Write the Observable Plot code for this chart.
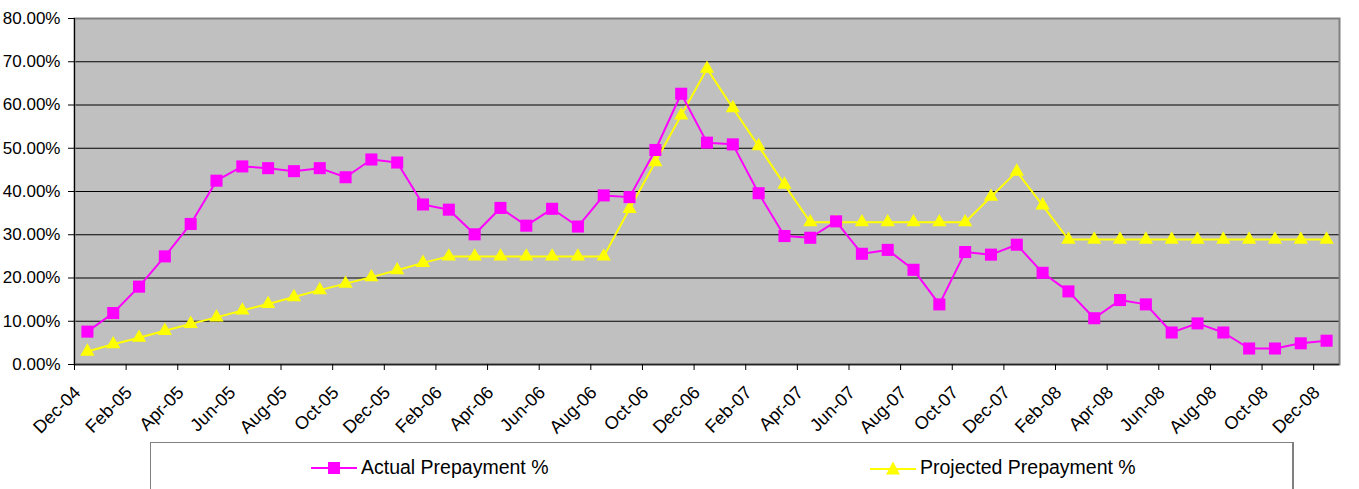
<!DOCTYPE html>
<html>
<head>
<meta charset="utf-8">
<script src="https://cdn.jsdelivr.net/npm/d3@7"></script>
<script src="https://cdn.jsdelivr.net/npm/@observablehq/plot@0.6"></script>
<style>
  html, body { margin: 0; padding: 0; background: #fff; }
  body { position: relative; width: 1359px; height: 489px; overflow: hidden; font-family: "Liberation Sans", Arial, sans-serif; }
  #chart { position: absolute; left: 0; top: 0; }
  #legend {
    position: absolute; left: 150px; top: 442px; width: 1144px; height: 70px;
    border: 1px solid #808080; border-right-width: 2px; background: #fff; box-sizing: border-box;
  }
  .item { position: absolute; top: 13px; display: flex; align-items: center; font-size: 19.5px; color: #000; white-space: nowrap; }
  .item svg { margin-right: 4px; }
</style>
</head>
<body>
<div id="chart"></div>
<div id="legend">
  <div class="item" style="left:160px">
    <svg width="46" height="16"><line x1="0" y1="8" x2="46" y2="8" stroke="#FF00FF" stroke-width="2"/><rect x="17" y="2" width="12" height="12" fill="#FF00FF"/></svg>
    <span>Actual Prepayment %</span>
  </div>
  <div class="item" style="left:719px">
    <svg width="46" height="16"><line x1="0" y1="9" x2="46" y2="9" stroke="#FFFF00" stroke-width="2"/><path d="M23,1.5 L30,14.5 L16,14.5 Z" fill="#FFFF00"/></svg>
    <span>Projected Prepayment %</span>
  </div>
</div>
<script>
// Month labels, one per observation (Dec-04 .. Dec-08)
const months = [
  "Dec-04","Jan-05","Feb-05","Mar-05","Apr-05","May-05","Jun-05","Jul-05","Aug-05","Sep-05","Oct-05","Nov-05",
  "Dec-05","Jan-06","Feb-06","Mar-06","Apr-06","May-06","Jun-06","Jul-06","Aug-06","Sep-06","Oct-06","Nov-06",
  "Dec-06","Jan-07","Feb-07","Mar-07","Apr-07","May-07","Jun-07","Jul-07","Aug-07","Sep-07","Oct-07","Nov-07",
  "Dec-07","Jan-08","Feb-08","Mar-08","Apr-08","May-08","Jun-08","Jul-08","Aug-08","Sep-08","Oct-08","Nov-08",
  "Dec-08"
];

// Actual prepayment rate, percent
const actual = [
  7.6, 11.9, 18.0, 25.0, 32.5, 42.5, 45.8, 45.4, 44.7, 45.4, 43.3, 47.4,
  46.7, 37.0, 35.8, 30.1, 36.2, 32.1, 36.0, 31.9, 39.1, 38.7, 49.6, 62.6,
  51.3, 50.9, 39.6, 29.7, 29.3, 33.1, 25.6, 26.5, 21.9, 13.9, 26.0, 25.4,
  27.7, 21.2, 16.9, 10.7, 14.9, 13.9, 7.4, 9.5, 7.4, 3.7, 3.7, 4.9,
  5.5
];

// Projected prepayment rate, percent
const projected = [
  3.0, 4.7, 6.2, 7.8, 9.4, 10.9, 12.5, 14.0, 15.6, 17.2, 18.7, 20.2,
  21.8, 23.5, 25.0, 25.0, 25.0, 25.0, 25.0, 25.0, 25.0, 36.0, 46.8, 57.6,
  68.4, 59.3, 50.5, 41.6, 32.9, 32.9, 32.9, 32.9, 32.9, 32.9, 32.9, 38.8,
  44.6, 36.8, 28.9, 28.9, 28.9, 28.9, 28.9, 28.9, 28.9, 28.9, 28.9, 28.9,
  28.9
];

// Y axis ticks (fractions) and labelled months (every second one)
const yTicks = [0, 0.1, 0.2, 0.3, 0.4, 0.5, 0.6, 0.7, 0.8];
const xTickLabels = ["Dec-04","Feb-05","Apr-05","Jun-05","Aug-05","Oct-05","Dec-05","Feb-06","Apr-06","Jun-06",
  "Aug-06","Oct-06","Dec-06","Feb-07","Apr-07","Jun-07","Aug-07","Oct-07","Dec-07","Feb-08","Apr-08","Jun-08",
  "Aug-08","Oct-08","Dec-08"];

// Each month occupies one category slot; points sit in the middle of their slot,
// tick marks sit on the slot boundaries.
const rows = months.map((m, i) => ({
  month: m,
  pos: i + 0.5,
  actual: actual[i] / 100,
  projected: projected[i] / 100
}));
const xTickPos = xTickLabels.map(l => months.indexOf(l));

const chart = Plot.plot({
  width: 1359,
  height: 440,
  marginLeft: 74,
  marginRight: 20,
  marginTop: 18,
  marginBottom: 76,
  style: { fontFamily: "'Liberation Sans', Arial, sans-serif", color: "#000", background: "#fff", overflow: "visible" },
  x: { domain: [0, months.length], axis: null },
  y: { domain: [0, 0.8], axis: null },
  marks: [
    Plot.frame({ fill: "#C0C0C0", stroke: "none" }),
    Plot.ruleY(yTicks.filter(t => t > 0 && t < 0.8), { stroke: "#000", strokeWidth: 1 }),
    Plot.frame({ stroke: "#808080", strokeWidth: 2 }),
    Plot.ruleY([0], { stroke: "#222", strokeWidth: 1.5 }),
    Plot.ruleX([0], { stroke: "#000", strokeWidth: 1 }),
    Plot.axisY({
      ticks: yTicks,
      tickFormat: d => (d * 100).toFixed(2) + "%",
      tickSize: 6,
      tickPadding: 8,
      fontSize: 17,
      label: null
    }),
    Plot.axisX({
      ticks: xTickPos,
      tickFormat: i => months[i],
      tickRotate: -45,
      tickSize: 6,
      tickPadding: 21,
      fontSize: 18,
      label: null
    }),
    Plot.line(rows, { x: "pos", y: "projected", stroke: "#FFFF00", strokeWidth: 2 }),
    Plot.dot(rows, { x: "pos", y: "projected", symbol: "triangle", r: 5.3, fill: "#FFFF00", stroke: "none" }),
    Plot.line(rows, { x: "pos", y: "actual", stroke: "#FF00FF", strokeWidth: 2 }),
    Plot.dot(rows, { x: "pos", y: "actual", symbol: "square", r: 6.8, fill: "#FF00FF", stroke: "none" })
  ]
});

// Tick label sizes, and a small nudge of the rotated month labels
chart.querySelectorAll('[aria-label="x-axis tick label"] text').forEach(t => t.setAttribute("font-size", "18"));
chart.querySelectorAll('[aria-label="y-axis tick label"] text').forEach(t => t.setAttribute("font-size", "17"));
chart.querySelectorAll('g[aria-label="x-axis tick label"]').forEach(g => {
  g.setAttribute("transform", "translate(3,-2) " + (g.getAttribute("transform") || ""));
});

document.getElementById("chart").appendChild(chart);
</script>
</body>
</html>
